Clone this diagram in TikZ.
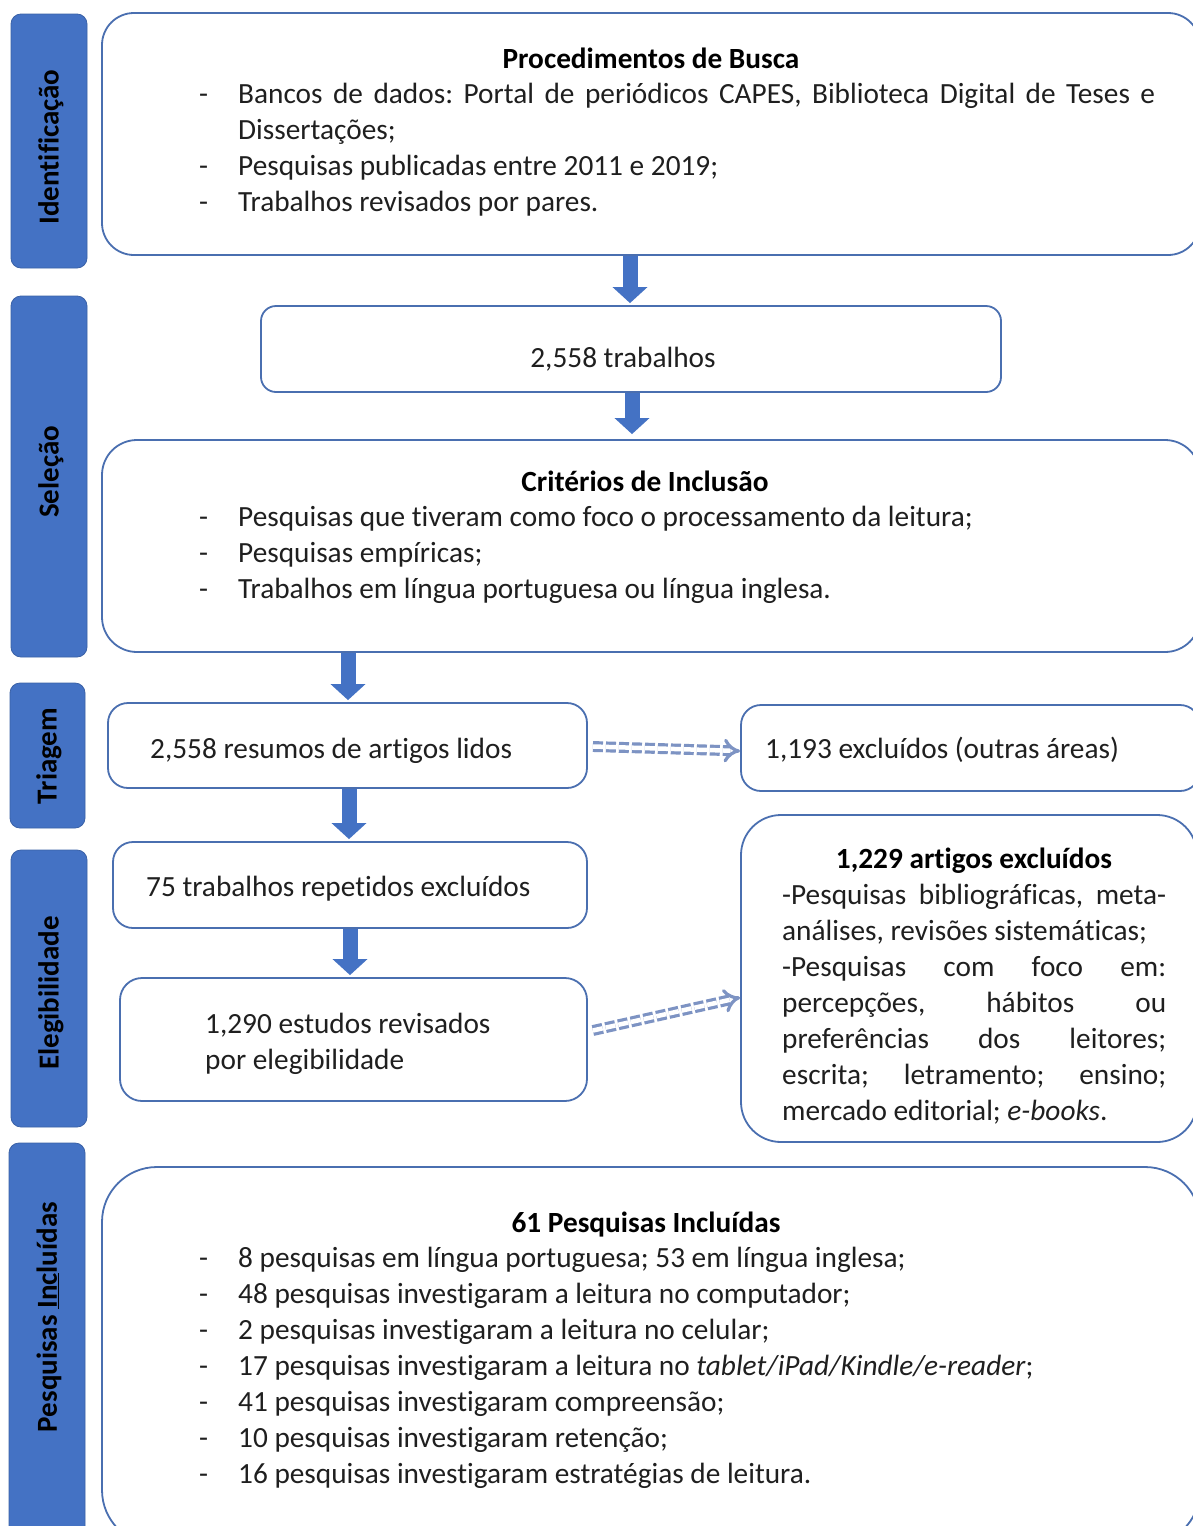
\documentclass[tikz,border=0pt]{standalone}
\usepackage{fontspec}
\setmainfont{Carlito}[Ligatures={NoCommon}]
\usetikzlibrary{arrows.meta}
\definecolor{barblue}{HTML}{4472C4}
\definecolor{edgeblue}{HTML}{4A6FB0}
\definecolor{dashblue}{HTML}{7D93C3}
\newcommand\itm[1]{\par\noindent\hangindent=43pt\hangafter=1\makebox[43pt][l]{\hspace{4pt}-}#1\strut}
\tikzset{
 sidebar/.style={fill=barblue, draw=barblue!85!black, line width=0.8, rounded corners=10, inner sep=0},
 sidetext/.style={rotate=90, inner sep=0, font=\fontsize{29}{34}\selectfont\bfseries, text=black},
 box/.style={draw=edgeblue, line width=1.8, fill=white, inner sep=0},
 txt/.style={inner sep=0, font=\fontsize{29.3}{36}\selectfont\frenchspacing, text=black!88},
 ttl/.style={inner sep=0, font=\fontsize{29.3}{36}\selectfont\bfseries, text=black},
 listtxt/.style={txt, anchor=north west, align=justify},
 blockarrow/.style={draw=barblue, line width=15, -{Triangle[width=34,length=16]}},
 hollow/.style={draw=dashblue, double=white, double distance=4.5, line width=3.2, dash pattern=on 10 off 3, -{Implies}},
}
\begin{document}
\begin{tikzpicture}[x=1pt,y=-1pt]
\useasboundingbox (0,0) rectangle (1193,1526);
\fill[white] (0,0) rectangle (1193,1526);
\clip (0,0) rectangle (1193,1526);
\hyphenpenalty=10000
\frenchspacing
% side bars
\node[sidebar, minimum width=76, minimum height=254] (s1) at (49,141) {};
\node[sidebar, minimum width=76, minimum height=361] (s2) at (49,476.5) {};
\node[sidebar, minimum width=75, minimum height=145] (s3) at (47.5,755.5) {};
\node[sidebar, minimum width=76, minimum height=277] (s4) at (49,988.5) {};
\node[sidebar, minimum width=76, minimum height=397] (s5) at (47,1341.5) {};
\node[sidetext] (t1) at (51,147) {Identificação};
\node[sidetext] (t2) at (51,472) {Seleção};
\node[sidetext] (t3) at (49,756) {Triagem};
\node[sidetext] (t4) at (51,993) {Elegibilidade};
\node[sidetext] (t5) at (49,1317) {Pesquisas \underline{Inc}luídas};
% boxes
\node[box, rounded corners=32, minimum width=1098, minimum height=242] (b1) at (651,134) {};
\node[box, rounded corners=15, minimum width=740, minimum height=86] (b2) at (631,349) {};
\node[box, rounded corners=35, minimum width=1098, minimum height=212] (b3) at (651,546) {};
\node[box, rounded corners=20, minimum width=479, minimum height=85] (b4) at (347.5,745.5) {};
\node[box, rounded corners=20, minimum width=459, minimum height=86] (b5) at (970.5,748) {};
\node[box, rounded corners=20, minimum width=474, minimum height=86] (b6) at (350,885) {};
\node[box, rounded corners=22, minimum width=467, minimum height=123] (b7) at (353.5,1039.5) {};
\node[box, rounded corners=40, minimum width=456, minimum height=327] (b8) at (969,978.5) {};
\node[box, rounded corners=55, minimum width=1098, minimum height=378] (b9) at (651,1356) {};
% box 1 text
\node[ttl, anchor=base] (h1) at (651,68) {Procedimentos de Busca};
\node[listtxt, text width=960] (l1) at (195,66.8) {%
\itm{Bancos de dados: Portal de periódicos CAPES, Biblioteca Digital de Teses e\linebreak Dissertações;}%
\itm{Pesquisas publicadas entre 2011 e 2019;}%
\itm{Trabalhos revisados por pares.}};
% box 2
\node[txt, anchor=base] (x2) at (623,367) {2,558 trabalhos};
% box 3
\node[ttl, anchor=base] (h3) at (645,491) {Critérios de Inclusão};
\node[listtxt, text width=960] (l3) at (195,489.8) {%
\itm{Pesquisas que tiveram como foco o processamento da leitura;}%
\itm{Pesquisas empíricas;}%
\itm{Trabalhos em língua portuguesa ou língua inglesa.}};
% triagem
\node[txt, anchor=base west] (x4) at (150,758) {2,558 resumos de artigos lidos};
\node[txt, anchor=base west] (x5) at (765,758) {1,193 excluídos (outras áreas)};
% elegibilidade
\node[txt, anchor=base west] (x6) at (146,896) {75 trabalhos repetidos excluídos};
\node[txt, anchor=north west, align=left] (x7) at (205,1007.8) {\strut 1,290 estudos revisados\\por elegibilidade};
\node[ttl, anchor=base] (h8) at (974,868) {1,229 artigos excluídos};
\node[listtxt, text width=384] (l8) at (782,878.8) {\strut -Pesquisas bibliográficas, meta-\linebreak análises, revisões sistemáticas;\par\noindent\strut -Pesquisas com foco em:\linebreak percepções, hábitos ou\linebreak preferências dos leitores;\linebreak escrita; letramento; ensino;\linebreak mercado editorial; \textit{e-books}.\strut};
% incluidas
\node[ttl, anchor=base] (h9) at (646,1232) {61 Pesquisas Incluídas};
\node[listtxt, text width=960] (l9) at (195,1230.8) {%
\itm{8 pesquisas em língua portuguesa; 53 em língua inglesa;}%
\itm{48 pesquisas investigaram a leitura no computador;}%
\itm{2 pesquisas investigaram a leitura no celular;}%
\itm{17 pesquisas investigaram a leitura no \textit{tablet/iPad/Kindle/e-reader};}%
\itm{41 pesquisas investigaram compreensão;}%
\itm{10 pesquisas investigaram retenção;}%
\itm{16 pesquisas investigaram estratégias de leitura.}};
% arrows
\coordinate (ax1) at (630,0);
\coordinate (ax2) at (632,0);
\coordinate (ax3) at (348,0);
\coordinate (ax4) at (349,0);
\coordinate (ax5) at (350,0);
\draw[blockarrow] (b1.south -| ax1) -- ([yshift=2]b2.north -| ax1);
\draw[blockarrow] (b2.south -| ax2) -- ([yshift=5]b3.north -| ax2);
\draw[blockarrow] (b3.south -| ax3) -- ([yshift=2]b4.north -| ax3);
\draw[blockarrow] (b4.south -| ax4) -- ([yshift=2]b6.north -| ax4);
\draw[blockarrow] (b6.south -| ax5) -- ([yshift=2]b7.north -| ax5);
\draw[hollow] ([xshift=5,yshift=-1]b4.east) -- ([yshift=-3]b5.west);
\draw[hollow] ([shift={(5,-9)}]b7.east) -- ([shift={(0,19)}]b8.west);
\end{tikzpicture}
\end{document}
